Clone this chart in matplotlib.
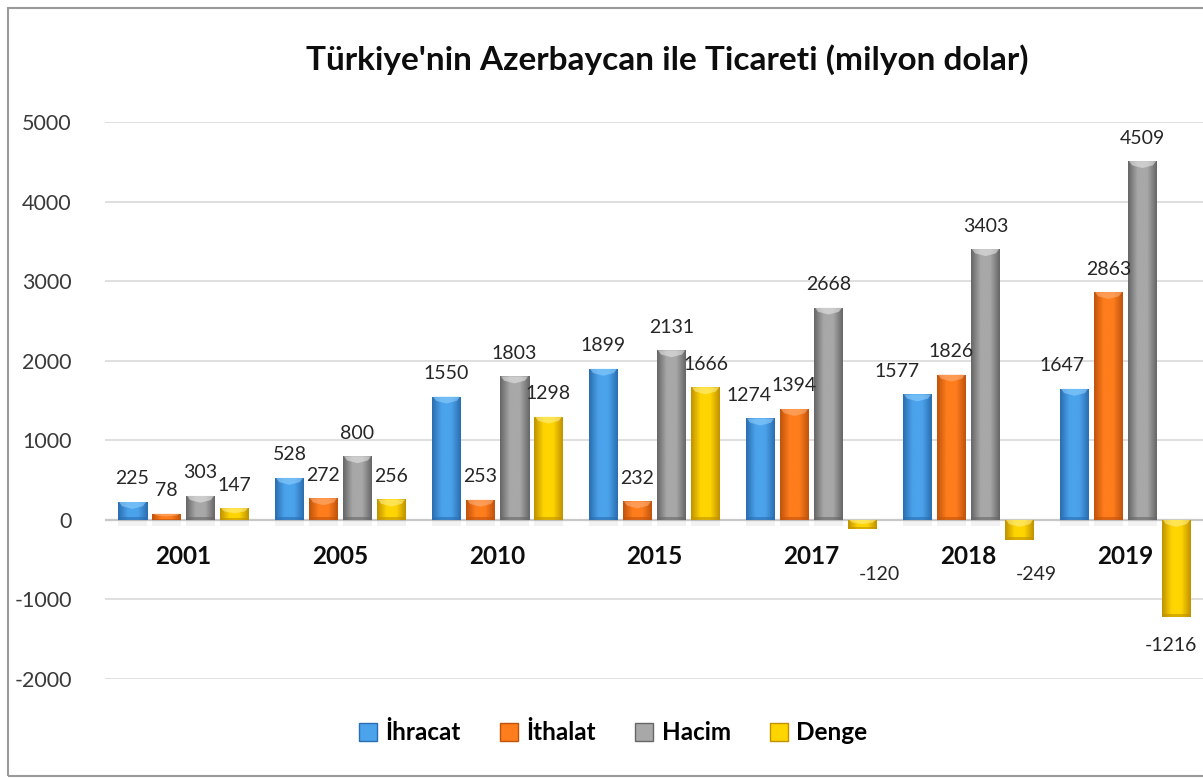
import numpy as np
import matplotlib
matplotlib.use("Agg")
import matplotlib.pyplot as plt
from matplotlib.colors import LinearSegmentedColormap
from matplotlib.patches import Rectangle, Polygon, Patch

# ---- data ----
years = ["2001", "2005", "2010", "2015", "2017", "2018", "2019"]
ihracat = [225, 528, 1550, 1899, 1274, 1577, 1647]
ithalat = [78, 272, 253, 232, 1394, 1826, 2863]
hacim = [303, 800, 1803, 2131, 2668, 3403, 4509]
denge = [147, 256, 1298, 1666, -120, -249, -1216]
series_names = ["İhracat", "İthalat", "Hacim", "Denge"]
yticks = [-2000, -1000, 0, 1000, 2000, 3000, 4000, 5000]
title = "Türkiye'nin Azerbaycan ile Ticareti (milyon dolar)"

# colours: (edge, middle, highlight)
colors = [
    ("#2a6db0", "#4ba3ec", "#8fd0ff"),
    ("#c0530c", "#ff7d1c", "#ffb07a"),
    ("#666666", "#a8a8a8", "#e6e6e6"),
    ("#c09200", "#ffd500", "#fff08a"),
]

FONT = "Lato"
plt.rcParams["font.family"] = [FONT, "DejaVu Sans"]

W, H = 1203, 778
fig = plt.figure(figsize=(W / 100, H / 100), dpi=100)
ax = fig.add_axes([105 / W, (H - 679) / H, 1099 / W, (679 - 122) / H])

ymin, ymax = -2000, 5000
xmin, xmax = -0.5, len(years) - 0.5
px_x = (xmax - xmin) / 1099.0          # data units per pixel (x)
px_y = (ymax - ymin) / (679 - 122.0)   # data units per pixel (y)

pitch = 34 * px_x
width = 29 * px_x
data = [ihracat, ithalat, hacim, denge]
x = np.arange(len(years))

# label pixel offsets for particular labels (series index, group index) -> (dx, dy)
label_shift = {(0, 4): (-12, 0), (0, 5): (-20, 0), (0, 6): (-13, 0),
               (3, 4): (17, -16), (3, 5): (17, -6), (3, 6): (-6, 0)}

for si, vals in enumerate(data):
    edge, mid, hi = colors[si]
    cmap = LinearSegmentedColormap.from_list("g%d" % si, [edge, mid, mid, edge], N=128)
    xs = x + (si - 1.5) * pitch
    bars = ax.bar(xs, vals, width=width, color=mid, edgecolor="none", zorder=3)
    for gi, (b, v) in enumerate(zip(bars, vals)):
        x0 = b.get_x()
        y0, y1 = sorted([0, v])
        # soft shadow under bar
        ax.add_patch(Rectangle((x0, -6 * px_y), width, 6 * px_y,
                               facecolor="#000000", alpha=0.05, edgecolor="none", zorder=2))
        grad = np.linspace(0, 1, 64)[None, :]
        im = ax.imshow(grad, cmap=cmap, extent=[x0, x0 + width, y0, y1],
                       aspect="auto", origin="lower", zorder=3.1, interpolation="bicubic")
        im.set_clip_path(b)
        # top bevel highlight (chevron)
        bev = min(7 * px_y, (y1 - y0) * 0.45)
        top = y1
        poly = Polygon([(x0 + 1 * px_x, top), (x0 + width - 1 * px_x, top),
                        (x0 + width - 4 * px_x, top - bev * 0.6),
                        (x0 + width / 2, top - bev),
                        (x0 + 4 * px_x, top - bev * 0.6)],
                       closed=True, facecolor=hi, edgecolor="none", alpha=0.6, zorder=3.2)
        ax.add_patch(poly)
        # bottom darker strip
        ax.add_patch(Rectangle((x0, y0), width, min(3 * px_y, (y1 - y0) * 0.2),
                               facecolor=edge, edgecolor="none", alpha=0.6, zorder=3.2))
        # value labels
        dx, dy = label_shift.get((si, gi), (0, 0))
        if v >= 0:
            ty = v + 23 * px_y
        else:
            ty = v - 29 * px_y
        ax.text(b.get_x() + width / 2 + dx * px_x, ty + dy * px_y, f"{v}",
                ha="center", va="center", fontsize=14, color="#262626", zorder=5)

# category labels
for i, yr in enumerate(years):
    ax.text(i, -465, yr, ha="center", va="center", fontsize=17.5,
            fontweight="bold", color="#0d0d0d", zorder=5)

ax.set_xlim(xmin, xmax)
ax.set_ylim(ymin, ymax)
ax.set_yticks(yticks)
ax.set_yticklabels([str(t) for t in yticks], fontsize=15.5, color="#3a3a3a")
ax.tick_params(axis="y", length=0, pad=24)
ax.set_xticks([])
for s in ax.spines.values():
    s.set_visible(False)
ax.yaxis.grid(True, color="#d9d9d9", linewidth=1.2, zorder=0)
ax.set_axisbelow(True)
ax.axhline(0, color="#c8c8c8", linewidth=1.6, zorder=1)

fig.text(667 / W, 1 - 60 / H, title, ha="center", va="center",
         fontsize=24, fontweight="bold", color="#0d0d0d")

handles = [Patch(facecolor=c[1], edgecolor=c[0], linewidth=1.0) for c in colors]
leg = fig.legend(handles, series_names, loc="center", bbox_to_anchor=(613 / W, 1 - 733 / H),
                 ncol=4, frameon=False, prop={"family": FONT, "weight": "bold", "size": 17.5},
                 handlelength=0.75, handleheight=0.75, handletextpad=0.35, columnspacing=1.6)

# outer border
fig.add_artist(Rectangle((8 / W, 2 / H), 1.2, 1 - 10 / H, transform=fig.transFigure,
                         fill=False, edgecolor="#9a9a9a", linewidth=1.5))

fig.savefig("out.png", dpi=100)
